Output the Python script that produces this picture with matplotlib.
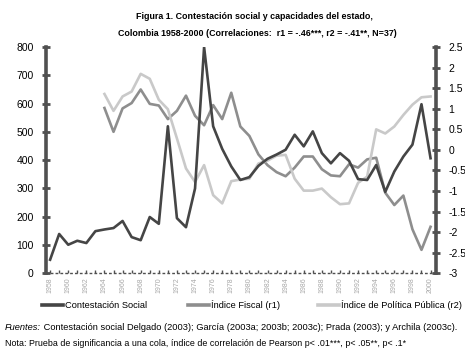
import numpy as np
import matplotlib
matplotlib.use("Agg")
import matplotlib.pyplot as plt
from matplotlib.lines import Line2D

plt.rcParams['font.family'] = ['Liberation Sans', 'DejaVu Sans']

years = list(range(1958, 2001))
contestacion = [48, 139, 101, 115, 107, 149, 155, 160, 185, 128, 117, 199, 175,
                520, 195, 163, 300, 800, 520, 440, 378, 330, 340, 380, 405, 420,
                437, 490, 449, 502, 425, 389, 425, 398, 333, 330, 383, 288, 360,
                413, 455, 598, 407]

years_idx = list(range(1964, 2001))
fiscal = [1.02, 0.44, 1.01, 1.14, 1.47, 1.12, 1.08, 0.75, 0.95, 1.32, 0.83, 0.60,
          1.09, 0.75, 1.39, 0.57, 0.34, -0.11, -0.37, -0.54, -0.64, -0.43, -0.16,
          -0.16, -0.47, -0.62, -0.64, -0.35, -0.43, -0.23, -0.19, -1.04, -1.34,
          -1.11, -1.93, -2.43, -1.87]
politica = [1.36, 0.95, 1.30, 1.42, 1.85, 1.73, 1.22, 0.99, 0.28, -0.45, -0.78,
            -0.37, -1.10, -1.30, -0.76, -0.72, -0.70, -0.33, -0.26, -0.14, -0.12,
            -0.70, -0.99, -0.99, -0.94, -1.15, -1.32, -1.30, -0.80, -0.65, 0.50,
            0.40, 0.57, 0.85, 1.10, 1.28, 1.30]

labels = ['Contestación Social', 'Índice Fiscal (r1)', 'Índice de Política Pública (r2)']

c_dark = '#454545'
c_mid = '#8e8e8e'
c_light = '#c9c9c9'
axis_col = '#505050'

fig = plt.figure(figsize=(4.65, 3.57), dpi=100)
ax = fig.add_axes([0.099, 0.2345, 0.8386, 0.6335])
ax2 = ax.twinx()

ax.plot(years, contestacion, color=c_dark, lw=1.9, zorder=3)
ax2.plot(years_idx, fiscal, color=c_mid, lw=1.9)
ax2.plot(years_idx, politica, color=c_light, lw=1.9)
ax.set_zorder(2)
ax.patch.set_visible(False)

ax.set_xlim(1957.55, 2000.6)
ax.set_ylim(0, 800)
ax2.set_ylim(-3, 2.5)

ax.set_yticks(np.arange(0, 801, 100))
ax2.set_yticks(np.arange(-3, 2.51, 0.5))
ax2.set_yticklabels(['-3', '-2.5', '-2', '-1.5', '-1', '-0.5', '0', '0.5', '1',
                     '1.5', '2', '2.5'])

for a in (ax, ax2):
    a.spines['top'].set_visible(False)
ax.spines['right'].set_visible(False)
ax2.spines['left'].set_visible(False)
ax2.spines['bottom'].set_visible(False)
ax.spines['left'].set_color(axis_col)
ax.spines['left'].set_linewidth(2.6)
ax2.spines['right'].set_color(axis_col)
ax2.spines['right'].set_linewidth(2.6)
ax.spines['bottom'].set_color(axis_col)
ax.spines['bottom'].set_linewidth(1.0)
ax.spines['bottom'].set_linestyle((0, (1, 2.5)))

ax.tick_params(axis='y', direction='inout', length=6, width=2, color=axis_col,
               labelsize=7.5, pad=6)
ax2.tick_params(axis='y', direction='inout', length=6, width=2, color=axis_col,
                labelsize=7.5, pad=6)

ax.set_xticks(years)
ax.set_xticklabels([str(y) if y % 2 == 0 else '' for y in years],
                   rotation=90, fontsize=5, color='#a8a8a8')
ax.tick_params(axis='x', direction='in', length=2, width=1, color=axis_col, pad=3)

# title
fig.text(0.547, 0.955, 'Figura 1. Contestación social y capacidades del estado,',
         ha='center', va='center', fontsize=6.4, fontweight='bold')
fig.text(0.553, 0.907,
         'Colombia 1958-2000 (Correlaciones:  r1 = -.46***, r2 = -.41**, N=37)',
         ha='center', va='center', fontsize=6.4, fontweight='bold')

# legend drawn by hand in figure pixels
W, H = 465.0, 357.0
leg_y = 1 - 305 / H
for col, lab, x0 in zip([c_dark, c_mid, c_light], labels, [42, 188, 318]):
    fig.add_artist(Line2D([x0 / W, (x0 + 21) / W], [leg_y, leg_y], color=col, lw=2.6,
                          transform=fig.transFigure))
    fig.text((x0 + 23) / W, leg_y, lab, fontsize=6.7, va='center', ha='left')

# notes
t1 = fig.text(0.011, 1 - 328 / H, 'Fuentes:', fontsize=6.7, style='italic', va='center')
ax.annotate(' Contestación social Delgado (2003); García (2003a; 2003b; 2003c); '
            'Prada (2003); y Archila (2003c).',
            xy=(1, 0.5), xycoords=t1, va='center', ha='left', fontsize=6.7,
            annotation_clip=False)
fig.text(0.011, 1 - 343 / H,
         'Nota: Prueba de significancia a una cola, índice de correlación de Pearson '
         'p< .01***, p< .05**, p< .1*', fontsize=6.4, va='center')

fig.savefig('out.png', dpi=100)
